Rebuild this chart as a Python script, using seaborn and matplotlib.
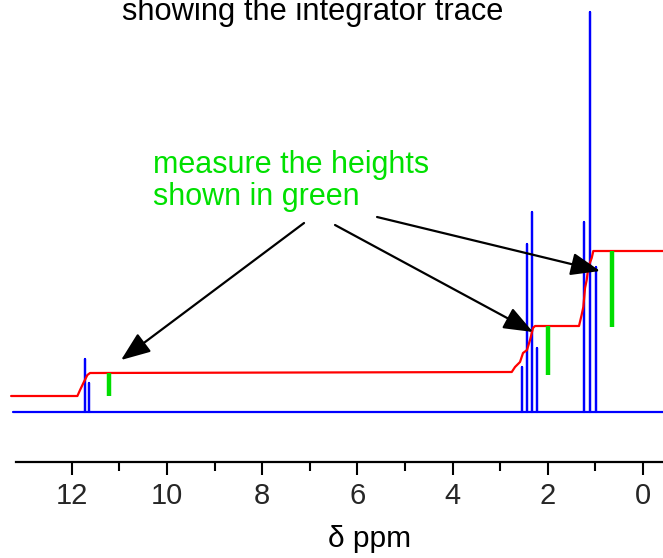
import numpy as np
import pandas as pd
import matplotlib
matplotlib.use("Agg")
import matplotlib.pyplot as plt
import seaborn as sns

# ---- data ----
peak_ppm = [11.72, 11.65, 2.548, 2.443, 2.338, 2.233, 1.233, 1.113, 0.994]
peak_height = [53, 29, 45, 168, 200, 64, 190, 400, 145]

int_ppm = [13.277, 11.884, 11.828, 11.758, 11.674, 11.618, 2.758, 2.689, 2.584,
           2.521, 2.437, 2.374, 2.311, 2.269, 1.345, 1.290, 1.254, 1.218, 1.183,
           1.149, 1.078, 1.044, -0.42]
int_height = [16, 16, 22, 29, 37, 39, 40, 45, 50,
              59, 62, 72, 84, 86, 86, 97, 105, 124, 132,
              145, 154, 161, 161]

green_ppm = [11.218, 1.989, 0.658]
green_low = [16, 37, 85]
green_high = [39, 86, 161]

major_ticks = [12, 10, 8, 6, 4, 2, 0]
minor_ticks = [11, 9, 7, 5, 3, 1]

title_text = "showing the integrator trace"
note_lines = ["measure the heights", "shown in green"]
xlabel_text = "δ ppm"

spec_start, spec_end = 13.235, -0.42

# ---- build spectrum stick path ----
px, py = [spec_start], [0]
for p, h in sorted(zip(peak_ppm, peak_height), key=lambda t: -t[0]):
    px += [p, p, p]
    py += [0, h, 0]
px.append(spec_end)
py.append(0)
spec_df = pd.DataFrame({"ppm": px, "intensity": py})
int_df = pd.DataFrame({"ppm": int_ppm, "integral": int_height})

sns.set_theme(style="white")
plt.rcParams["font.family"] = ["Liberation Sans", "DejaVu Sans"]

fig = plt.figure(figsize=(6.63, 5.58), dpi=100)
ax = fig.add_axes([0, 0, 1, 1])

sns.lineplot(data=spec_df, x="ppm", y="intensity", sort=False, estimator=None,
             color="#0000FF", lw=1.6, ax=ax)
sns.lineplot(data=int_df, x="ppm", y="integral", sort=False, estimator=None,
             color="#FF0000", lw=1.6, ax=ax)
ax.vlines(green_ppm, green_low, green_high, color="#00DD00", lw=3.2)

ax.set_xlim(13.51, -0.42)
ax.set_ylim(-146, 412)
ax.set_xlabel("")
ax.set_ylabel("")

for s in ["top", "left", "right"]:
    ax.spines[s].set_visible(False)
sp = ax.spines["bottom"]
sp.set_visible(True)
sp.set_position(("data", -50))
sp.set_bounds(13.17, -0.42)
sp.set_color("black")
sp.set_linewidth(1.6)

ax.set_xticks(major_ticks)
ax.set_xticklabels([str(t) for t in major_ticks])
ax.set_xticks(minor_ticks, minor=True)
ax.set_yticks([])
ax.tick_params(axis="x", which="major", direction="out", length=9.5, width=1.5,
               color="black", labelsize=21, pad=5, bottom=True)
ax.tick_params(axis="x", which="minor", direction="out", length=6.5, width=1.5,
               color="black", bottom=True)

ax.text(0.557, (558 - 547) / 558, xlabel_text, transform=ax.transAxes,
        ha="center", va="baseline", fontsize=21.5, color="black")

fig.text(313 / 663, (558 - 20) / 558, title_text, ha="center", va="baseline",
         fontsize=22.2, color="black")

ax.text(153 / 663, (558 - 173) / 558, note_lines[0], transform=ax.transAxes,
        ha="left", va="baseline", fontsize=22, color="#00E000")
ax.text(153 / 663, (558 - 205) / 558, note_lines[1], transform=ax.transAxes,
        ha="left", va="baseline", fontsize=22, color="#00E000")

arrows = [((7.122, 189), (10.966, 52)),
          ((6.471, 187), (2.311, 80)),
          ((5.588, 195), (0.903, 141))]
for tail, tip in arrows:
    ax.annotate("", xy=tip, xytext=tail, xycoords="data", textcoords="data",
                arrowprops=dict(arrowstyle="-|>,head_length=0.9,head_width=0.35",
                                mutation_scale=20, color="black", lw=1.6,
                                shrinkA=0, shrinkB=0))

fig.savefig("out.png", dpi=100, facecolor="white")
